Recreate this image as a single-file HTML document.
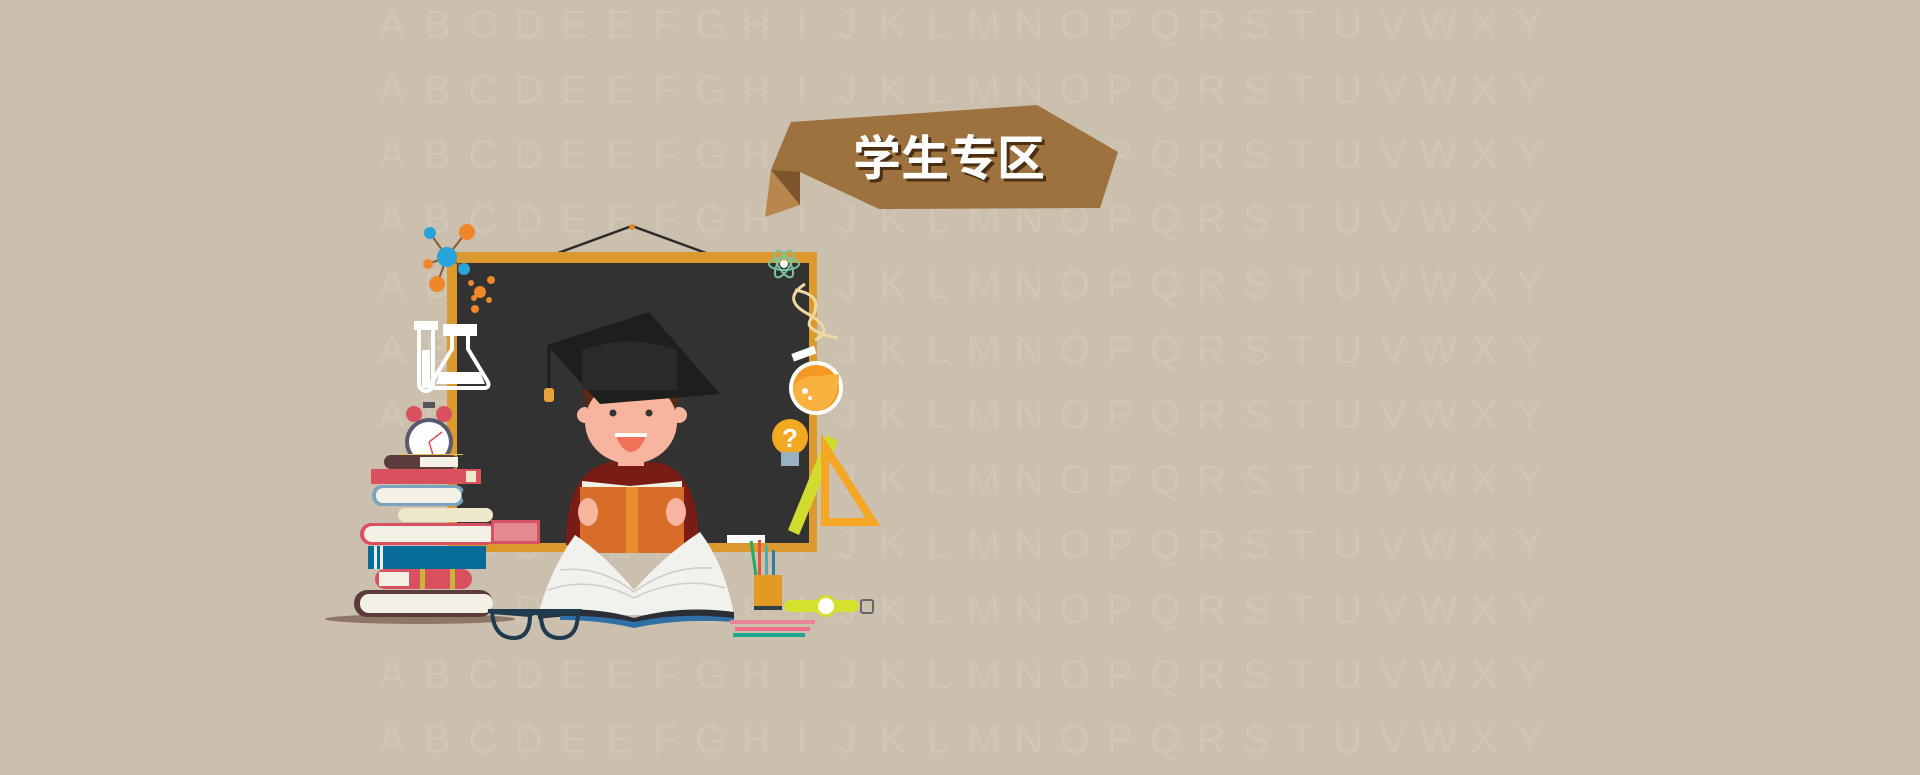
<!DOCTYPE html>
<html><head><meta charset="utf-8"><style>
html,body{margin:0;padding:0;width:1920px;height:775px;overflow:hidden;background:#cbbfad}
svg{display:block}
</style></head><body>
<svg width="1920" height="775" viewBox="0 0 1920 775">
<rect width="1920" height="775" fill="#cbbfad"/>
<g id="letters" font-family="Liberation Sans, sans-serif" font-size="40" fill="#d1c5b4"></g>

<g>
<polygon points="771,170 765,217 800,205" fill="#b9874e"/>
<polygon points="771,170 791,122 800,172 800,205" fill="#7d552c"/>
<polygon points="791,122 1037,105 1118,152 1100,208 879,209 800,172 771,170" fill="#9e723f"/>
<text x="952" y="178" text-anchor="middle" font-family="Liberation Sans, Noto Sans CJK SC, sans-serif" font-size="48" font-weight="bold" fill="#4a2f14">学生专区</text>
<text x="949" y="175" text-anchor="middle" font-family="Liberation Sans, Noto Sans CJK SC, sans-serif" font-size="48" font-weight="bold" fill="#ffffff">学生专区</text>
</g>

<g>
<polyline points="558,253 632,226 706,253" fill="none" stroke="#2a2a2a" stroke-width="2.5"/>
<circle cx="632" cy="227" r="3" fill="#e08a2c"/>
<rect x="447" y="252" width="370" height="300" fill="#dc9a2e"/>
<rect x="457" y="263" width="352" height="280" fill="#323232"/>
<rect x="727" y="535" width="38" height="8" fill="#fff"/>
</g>

<g>
<line x1="447" y1="257" x2="437" y2="284" stroke="#8a5a33" stroke-width="2"/>
<line x1="447" y1="257" x2="467" y2="231" stroke="#8a5a33" stroke-width="2"/>
<line x1="447" y1="257" x2="430" y2="233" stroke="#8a5a33" stroke-width="2"/>
<line x1="447" y1="257" x2="464" y2="268" stroke="#8a5a33" stroke-width="2"/>
<line x1="447" y1="257" x2="428" y2="264" stroke="#8a5a33" stroke-width="2"/>
<circle cx="447" cy="257" r="10" fill="#28a3dc"/>
<circle cx="430" cy="233" r="6" fill="#28a3dc"/>
<circle cx="464" cy="269" r="6" fill="#28a3dc"/>
<circle cx="467" cy="232" r="8" fill="#f0862a"/>
<circle cx="437" cy="284" r="8" fill="#f0862a"/>
<circle cx="428" cy="264" r="5" fill="#f0862a"/>
<circle cx="480" cy="292" r="6" fill="#f0862a"/><circle cx="491" cy="280" r="4" fill="#f0862a"/><circle cx="471" cy="283" r="3" fill="#f0862a"/><circle cx="474" cy="298" r="3" fill="#f0862a"/><circle cx="489" cy="300" r="3" fill="#f0862a"/><circle cx="475" cy="309" r="4" fill="#f0862a"/>
</g>

<g fill="none" stroke="#fff" stroke-width="4">
<rect x="416" y="323" width="20" height="5" fill="#fff"/>
<path d="M419,328 V384 a7,7 0 0 0 14,0 V328"/>
<rect x="422" y="350" width="8" height="38" fill="#fff" stroke="none"/>
<rect x="445" y="326" width="30" height="8" fill="#fff"/>
<path d="M452,334 V349 L432,382 Q430,388 437,388 H484 Q490,388 488,382 L468,349 V334"/>
<path d="M440,372 H480 L485,384 H436Z" fill="#fff" stroke="none"/>
</g>

<g>
<circle cx="414" cy="414" r="8" fill="#d9505f"/><circle cx="444" cy="414" r="8" fill="#d9505f"/>
<rect x="423" y="402" width="12" height="6" fill="#555"/>
<circle cx="429" cy="442" r="24" fill="#5a5a6e"/>
<circle cx="429" cy="442" r="20" fill="#fff"/>
<line x1="429" y1="442" x2="442" y2="432" stroke="#d9505f" stroke-width="1.5"/>
<line x1="429" y1="442" x2="433" y2="455" stroke="#d9505f" stroke-width="1.5"/>
</g>

<g>
<ellipse cx="420" cy="619" rx="95" ry="5" fill="#8d7868"/>
<rect x="354" y="590" width="139" height="27" rx="13" fill="#5b3b3c"/><rect x="360" y="594" width="133" height="19" rx="9" fill="#f3f0e6"/>
<rect x="375" y="569" width="97" height="20" rx="10" fill="#d9505f"/><rect x="379" y="572" width="30" height="14" fill="#f3f0e6"/><rect x="420" y="569" width="5" height="20" fill="#c8b63a"/><rect x="450" y="569" width="5" height="20" fill="#c8b63a"/>
<rect x="368" y="546" width="118" height="23" fill="#086c9a"/><rect x="374" y="546" width="3" height="23" fill="#e8f0f0"/><rect x="380" y="546" width="3" height="23" fill="#e8f0f0"/>
<rect x="360" y="523" width="137" height="22" rx="11" fill="#d9505f"/><rect x="364" y="526" width="133" height="16" rx="8" fill="#f3f0e6"/>
<rect x="398" y="508" width="95" height="14" rx="7" fill="#efe7c9"/>
<rect x="372" y="485" width="93" height="21" rx="10" fill="#7aa3c0"/><rect x="376" y="488" width="85" height="15" rx="7" fill="#f3f0e6"/><rect x="462" y="485" width="30" height="21" rx="10" fill="#323232"/>
<rect x="371" y="469" width="110" height="15" fill="#d9505f"/><rect x="466" y="471" width="10" height="11" fill="#efe7c9"/>
<rect x="384" y="455" width="74" height="14" rx="7" fill="#5b3b3c"/><rect x="420" y="457" width="38" height="10" fill="#f3f0e6"/>
<rect x="397" y="454" width="66" height="1" fill="#e2c35a"/>
<rect x="491" y="520" width="49" height="24" fill="#d9505f"/><rect x="494" y="523" width="43" height="18" fill="#e48a90"/>
</g>

<g>
<path d="M566,545 Q566,470 610,462 H656 Q699,470 699,545Z" fill="#7a1c16"/>
<circle cx="585" cy="415" r="8" fill="#f7b59d"/><circle cx="679" cy="415" r="8" fill="#f7b59d"/>
<rect x="618" y="450" width="26" height="16" fill="#f7b59d"/>
<path d="M582,390 Q582,372 631,372 Q680,372 680,390 L673,420 L590,420Z" fill="#5a2a16"/>
<ellipse cx="631" cy="422" rx="46" ry="42" fill="#f7b59d"/>
<circle cx="613" cy="413" r="3.5" fill="#333"/><circle cx="649" cy="413" r="3.5" fill="#333"/>
<path d="M615,434 H647 Q640,452 631,452 Q622,452 615,434Z" fill="#ef7259"/><rect x="615" y="433" width="32" height="4" fill="#fff"/>
<polygon points="547,345 649,312 720,394 600,404" fill="#1e1e1e"/>
<path d="M582,350 Q630,333 677,350 V390 H582Z" fill="#2a2a2a"/>
<line x1="549" y1="346" x2="549" y2="390" stroke="#1e1e1e" stroke-width="3"/>
<rect x="544" y="388" width="10" height="14" rx="3" fill="#e9a13b"/>
<rect x="580" y="487" width="104" height="66" fill="#d66e2a"/><rect x="626" y="487" width="12" height="66" fill="#ec8a2e"/>
<polygon points="582,481 630,486 682,481 682,487 582,487" fill="#f3f0e6"/>
<ellipse cx="588" cy="512" rx="10" ry="14" fill="#f7b59d"/><ellipse cx="676" cy="512" rx="10" ry="14" fill="#f7b59d"/>
</g>

<g>
<path d="M538,615 Q550,570 575,535 Q605,555 634,590 Q665,555 700,532 Q725,565 734,615Z" fill="#f1f1ee"/>
<path d="M548,590 Q590,575 634,598 M560,570 Q600,565 634,592 M634,598 Q680,575 725,588 M634,592 Q670,565 712,568" stroke="#cfcbc2" stroke-width="1.5" fill="none"/>
<path d="M538,612 Q590,605 634,618 Q680,605 734,612 L734,619 Q680,612 634,625 Q590,612 538,619Z" fill="#2a2e35"/>
<path d="M560,616 Q600,615 634,622 Q680,612 734,618 L734,622 Q680,618 634,628 Q600,620 560,620Z" fill="#2f6fa5"/>
</g>

<g fill="none" stroke="#1f3b4d" stroke-width="4">
<path d="M492,612 Q494,638 514,638 Q530,638 530,615 Z"/>
<path d="M541,615 Q541,638 560,638 Q578,638 578,612 Z"/>
<path d="M488,611 H582 M530,615 Q535,611 541,615"/>
</g>

<g>
<ellipse cx="784" cy="264" rx="15" ry="6" fill="none" stroke="#7cc49b" stroke-width="2"/>
<ellipse cx="784" cy="264" rx="15" ry="6" fill="none" stroke="#7cc49b" stroke-width="2" transform="rotate(60 784 264)"/>
<ellipse cx="784" cy="264" rx="15" ry="6" fill="none" stroke="#7cc49b" stroke-width="2" transform="rotate(-60 784 264)"/>
<circle cx="784" cy="264" r="4" fill="#fff"/>
<path d="M805,284 Q780,300 810,315 Q835,330 815,340 M795,290 Q825,295 812,318 Q800,330 838,338" fill="none" stroke="#efd9a0" stroke-width="3"/>
<rect x="792" y="350" width="24" height="8" fill="#fff" transform="rotate(-20 803 354)"/>
<circle cx="816" cy="388" r="27" fill="#fff"/><circle cx="816" cy="388" r="23" fill="#f49a24"/>
<path d="M793,388 Q800,376 816,376 L839,374 Q839,408 816,411 Q793,408 793,388Z" fill="#f9b13f"/>
<circle cx="805" cy="391" r="3" fill="#fff"/><circle cx="810" cy="398" r="2" fill="#fff"/>
<circle cx="790" cy="437" r="18" fill="#f2a922"/>
<rect x="781" y="452" width="18" height="14" fill="#9bb0c0"/>
<text x="790" y="447" text-anchor="middle" font-family="Liberation Sans, sans-serif" font-weight="bold" font-size="26" fill="#fff">?</text>
<polygon points="788,530 827,435 838,441 799,535" fill="#d2dc2c"/>
<polygon points="825,447 825,522 873,522" fill="none" stroke="#f5a623" stroke-width="8"/>
</g>

<g>
<rect x="752" y="541" width="3" height="35" fill="#2a6" transform="rotate(-8 752 558)"/>
<rect x="758" y="540" width="3" height="36" fill="#e5533b"/>
<rect x="765" y="545" width="3" height="32" fill="#5aa"/>
<rect x="772" y="550" width="3" height="30" fill="#2a7fa0"/>
<rect x="754" y="575" width="28" height="35" fill="#e29a24"/><rect x="754" y="606" width="28" height="4" fill="#2f3f4a"/>
<rect x="784" y="600" width="75" height="12" rx="6" fill="#d4e22e"/>
<circle cx="826" cy="606" r="11" fill="#d4e22e"/><circle cx="826" cy="606" r="8" fill="#fff"/>
<rect x="861" y="600" width="12" height="13" rx="2" fill="none" stroke="#666" stroke-width="2"/>
<rect x="730" y="620" width="85" height="4" fill="#e8849a"/>
<rect x="735" y="627" width="75" height="4" fill="#ef6f8a"/>
<rect x="733" y="633" width="72" height="4" fill="#1fa88f"/>
</g>
</svg>
<script>
var letters = "ABCDEEFGHIJKLMNOPQRSTUVWXY".split("");
var g = document.getElementById("letters");
for (var r = 0; r < 12; r++) {
  for (var i = 0; i < letters.length; i++) {
    var t = document.createElementNS("http://www.w3.org/2000/svg", "text");
    t.setAttribute("x", 392 + i * 45.5);
    t.setAttribute("y", 38 + r * 65);
    t.setAttribute("text-anchor", "middle");
    
    
    t.textContent = letters[i];
    g.appendChild(t);
  }
}
</script>
</body></html>
